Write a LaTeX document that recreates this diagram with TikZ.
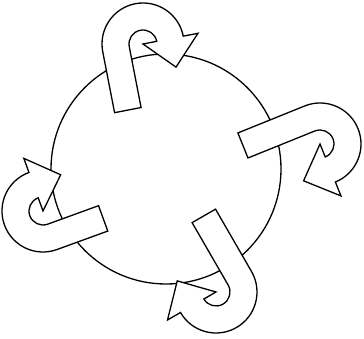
\documentclass[tikz,border=0pt]{standalone}
\usepackage{tikz}
% one hook-shaped turn arrow: centre x, centre y, rotation, shaft length
\newcommand{\turnarrow}[4]{%
  \draw[turn, shift={(#1,#2)}, rotate=#3]
    (-41,-#4) -- (-41,0) arc[start angle=180, end angle=0, radius=41]
    -- (56,0) -- (28,-29) -- (0,0) -- (14,0)
    arc[start angle=0, end angle=180, radius=14] -- (-14,-#4) -- cycle;}

\begin{document}
\begin{tikzpicture}[
  x=1pt, y=1pt,
  ring/.style={draw, line width=1.3pt},
  turn/.style={draw, fill=white, line width=1.3pt}
]
\useasboundingbox (0,0) rectangle (364,339);
% the circle
\draw[ring] (166,170) circle[radius=115];
% four turn arrows round it
\turnarrow{143}{295}{11}{62}
\turnarrow{320}{195}{-68}{72}
\turnarrow{216}{47}{-150}{72}
\turnarrow{43}{128}{110}{54}
\end{tikzpicture}
\end{document}
